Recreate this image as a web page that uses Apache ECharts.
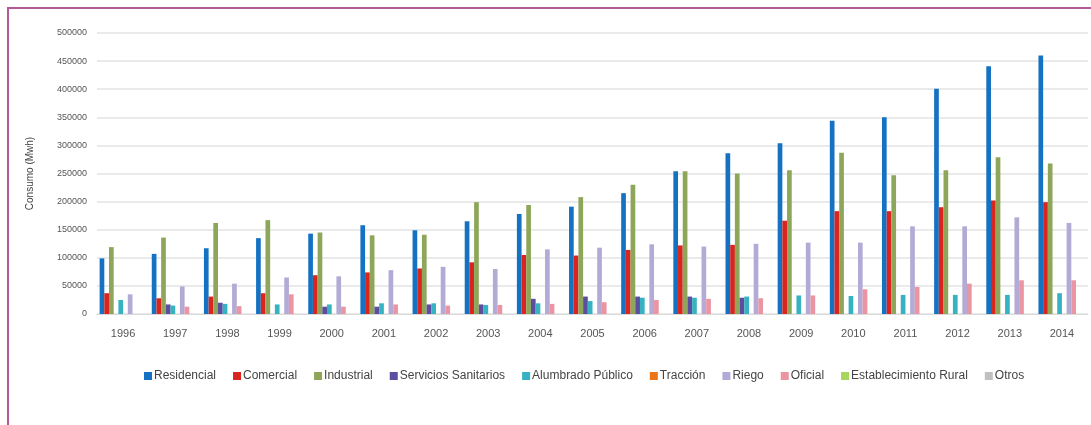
<!DOCTYPE html>
<html>
<head>
<meta charset="utf-8">
<script src="https://cdn.jsdelivr.net/npm/echarts@6/dist/echarts.min.js"></script>
<style>
html,body{margin:0;padding:0;background:#fff;}
#chart{width:1091px;height:425px;}
</style>
</head>
<body>
<div id="chart"></div>
<script>
const years = ['1996','1997','1998','1999','2000','2001','2002','2003','2004','2005','2006','2007','2008','2009','2010','2011','2012','2013','2014'];
const yTicks = [0,50000,100000,150000,200000,250000,300000,350000,400000,450000,500000];

const residencial = [99000,107000,117000,135000,143000,158000,149000,165000,178000,191000,215000,254000,286000,304000,344000,350000,401000,441000,460000];
const comercial   = [37000,28000,31000,37000,69000,74000,81000,92000,105000,104000,114000,122000,123000,166000,183000,183000,190000,202000,199000];
const industrial  = [119000,136000,162000,167000,145000,140000,141000,199000,194000,208000,230000,254000,250000,256000,287000,247000,256000,279000,268000];
const sanitarios  = [0,17000,20000,0,13000,13000,17000,17000,27000,31000,31000,31000,29000,0,0,0,0,0,0];
const alumbrado   = [25000,15000,18000,17000,17000,19000,19000,16000,19000,23000,29000,29000,31000,33000,32000,34000,34000,34000,37000];
const traccion    = [0,0,0,0,0,0,0,0,0,0,0,0,0,0,0,0,0,0,0];
const riego       = [35000,49000,54000,65000,67000,78000,84000,80000,115000,118000,124000,120000,125000,127000,127000,156000,156000,172000,162000];
const oficial     = [0,13000,14000,35000,13000,17000,15000,16000,18000,21000,25000,27000,28000,33000,44000,48000,54000,60000,60000];
const estRural    = [0,0,0,0,0,0,0,0,0,0,0,0,0,0,0,0,0,0,0];
const otros       = [0,0,0,0,0,0,0,0,0,0,0,0,0,0,0,0,0,0,0];

const seriesNames = ['Residencial','Comercial','Industrial','Servicios Sanitarios','Alumbrado Público','Tracción','Riego','Oficial','Establecimiento Rural','Otros'];
const seriesData = [residencial,comercial,industrial,sanitarios,alumbrado,traccion,riego,oficial,estRural,otros];
const colors = ['#1572c2','#d8261f','#8ea65a','#5b4e9e','#36b2c1','#ec7419','#b4aad6','#ec95a2','#a8d460','#c0c0c0'];

const chart = echarts.init(document.getElementById('chart'), null, {renderer:'canvas'});
const font = '"Liberation Sans", Arial, sans-serif';

chart.setOption({
  animation:false,
  color:colors,
  textStyle:{fontFamily:font},
  graphic:[
    {type:'line', shape:{x1:8,y1:8,x2:1091,y2:8}, style:{stroke:'#b4589a',lineWidth:2}},
    {type:'line', shape:{x1:8,y1:7,x2:8,y2:425}, style:{stroke:'#b4589a',lineWidth:2}}
  ],
  grid:{left:97,right:3,top:33,bottom:111,containLabel:false},
  legend:{
    left:139, top:365,
    itemWidth:8, itemHeight:8, itemGap:17,
    icon:'rect',
    textStyle:{fontFamily:font,fontSize:12,color:'#444',padding:[0,0,0,-3]},
    data:seriesNames
  },
  xAxis:{
    type:'category',
    data:years,
    axisLine:{show:true,lineStyle:{color:'#d9d9d9',width:1}},
    axisTick:{show:false},
    axisLabel:{fontFamily:font,fontSize:11,color:'#555',margin:14}
  },
  yAxis:{
    type:'value',
    min:yTicks[0], max:yTicks[yTicks.length-1], interval:yTicks[1]-yTicks[0],
    name:'Consumo (Mwh)',
    nameLocation:'middle',
    nameGap:62,
    nameTextStyle:{fontFamily:font,fontSize:10,color:'#444'},
    axisLine:{show:false},
    axisTick:{show:false},
    axisLabel:{fontFamily:font,fontSize:9,color:'#555',margin:10,formatter:v=>String(v)},
    splitLine:{lineStyle:{color:'#e3e3e3',width:1.5}}
  },
  series:seriesNames.map((n,i)=>({
    name:n,
    type:'bar',
    data:seriesData[i],
    barGap:'0%',
    barCategoryGap:'10%'
  }))
});
</script>
</body>
</html>
